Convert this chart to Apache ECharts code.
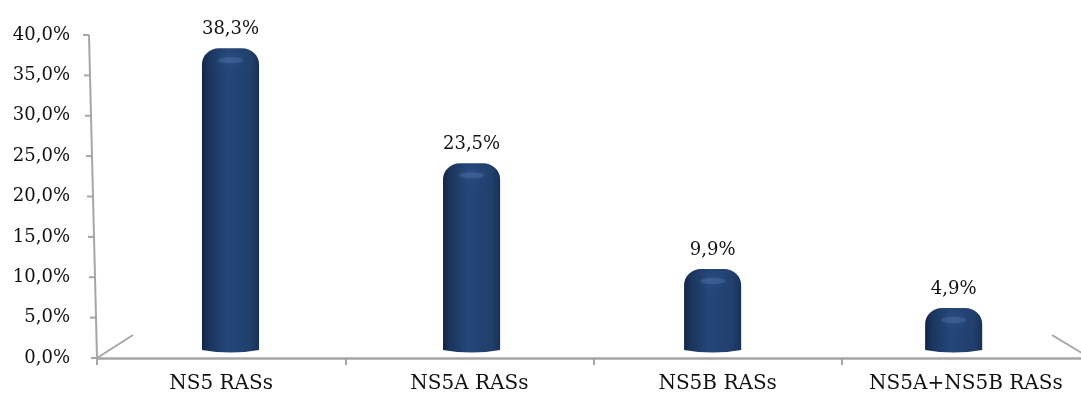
<!DOCTYPE html>
<html>
<head>
<meta charset="utf-8">
<style>
  html, body { margin: 0; padding: 0; background: #ffffff; overflow: hidden; width: 1081px; height: 401px; }
  #chart { width: 1091px; height: 401px; }
</style>
<script src="https://cdn.jsdelivr.net/npm/echarts@6/dist/echarts.min.js"></script>
</head>
<body>
<div id="chart"></div>
<script>
// ---- data ----
var categories = ['NS5 RASs', 'NS5A RASs', 'NS5B RASs', 'NS5A+NS5B RASs'];
var values = [38.3, 23.5, 9.9, 4.9];
var yTicks = [0, 5, 10, 15, 20, 25, 30, 35, 40];

function fmt(v) {
  return v.toFixed(1).replace('.', ',') + '%';
}

var FONT = 'DejaVu Serif';
var AXIS_GRAY = '#a6a6a6';

var chart = echarts.init(document.getElementById('chart'), null, { renderer: 'canvas' });

function barItem(params, api) {
  var i = api.value(0);
  var v = api.value(1);
  var base = api.coord([i, 0]);
  var topPt = api.coord([i, v]);
  var cw = api.size([1, 0])[0];
  var xc = base[0] + (545 - base[0]) * 0.029;
  var w = cw * 0.23;
  var xl = xc - w / 2, xr = xc + w / 2;
  var yb = base[1] - 8;
  var h = (base[1] - topPt[1]) * 0.963 + 4;
  var yt = yb - h;
  var rx = w * 0.3, ry = Math.min(16, h * 0.45);
  var k = 0.5523;
  var d = 'M' + xl + ' ' + yb +
    ' L' + xl + ' ' + (yt + ry) +
    ' C' + xl + ' ' + (yt + ry - k * ry) + ' ' + (xl + rx - k * rx) + ' ' + yt + ' ' + (xl + rx) + ' ' + yt +
    ' L' + (xr - rx) + ' ' + yt +
    ' C' + (xr - rx + k * rx) + ' ' + yt + ' ' + xr + ' ' + (yt + ry - k * ry) + ' ' + xr + ' ' + (yt + ry) +
    ' L' + xr + ' ' + yb +
    ' Q' + xc + ' ' + (yb + 5) + ' ' + xl + ' ' + yb + ' Z';
  return {
    type: 'group',
    children: [
      {
        type: 'path',
        shape: { pathData: d },
        style: {
          fill: new echarts.graphic.LinearGradient(0, 0, 1, 0, [
            { offset: 0, color: '#132644' },
            { offset: 0.12, color: '#1a355d' },
            { offset: 0.45, color: '#24467a' },
            { offset: 0.85, color: '#213f6c' },
            { offset: 1, color: '#183257' }
          ])
        }
      },
      {
        type: 'ellipse',
        shape: { cx: xc, cy: yt + ry * 0.75, rx: w * 0.22, ry: 3 },
        style: {
          fill: 'rgba(90,130,185,0.35)',
          shadowBlur: 8,
          shadowColor: 'rgba(90,130,185,0.6)'
        },
        silent: true
      },
      {
        type: 'text',
        style: {
          text: fmt(v),
          x: xc,
          y: yt - 10,
          align: 'center',
          verticalAlign: 'bottom',
          font: '18px "' + FONT + '"',
          fill: '#111111'
        }
      }
    ]
  };
}

function frameItem(params, api) {
  var cs = params.coordSys;
  var x0 = cs.x, y0 = cs.y + cs.height;
  var yTop = api.coord([0, yTicks[yTicks.length - 1]])[1];
  var lean = 8;
  function axisX(y) { return x0 - lean * (y0 - y) / (y0 - yTop); }
  var children = [
    { type: 'line', shape: { x1: axisX(yTop), y1: yTop, x2: x0, y2: y0 }, style: { stroke: AXIS_GRAY, lineWidth: 2 } },
    { type: 'line', shape: { x1: x0, y1: y0, x2: x0 + 36, y2: y0 - 23 }, style: { stroke: AXIS_GRAY, lineWidth: 2 } },
    { type: 'line', shape: { x1: cs.x + cs.width - 38, y1: y0 - 23, x2: cs.x + cs.width, y2: y0 }, style: { stroke: AXIS_GRAY, lineWidth: 2 } }
  ];
  yTicks.forEach(function (t) {
    var y = api.coord([0, t])[1];
    var ax = axisX(y);
    children.push({ type: 'line', shape: { x1: ax - 6, y1: y, x2: ax, y2: y }, style: { stroke: AXIS_GRAY, lineWidth: 2 } });
  });
  return { type: 'group', children: children };
}

var option = {
  backgroundColor: '#ffffff',
  animation: false,
  grid: { left: 97, top: 35, right: 1, bottom: 43, containLabel: false },
  xAxis: {
    type: 'category',
    data: categories,
    boundaryGap: true,
    axisLine: { show: true, lineStyle: { color: AXIS_GRAY, width: 2.5 } },
    axisTick: { show: true, interval: 0, length: 7, alignWithLabel: false, lineStyle: { color: AXIS_GRAY, width: 2 } },
    axisLabel: { interval: 0, color: '#111111', fontFamily: FONT, fontSize: 20, margin: 16 },
    splitLine: { show: false }
  },
  yAxis: {
    type: 'value',
    min: 0, max: 40, interval: 5,
    axisLine: { show: false },
    axisTick: { show: false },
    splitLine: { show: false },
    axisLabel: { color: '#111111', fontFamily: FONT, fontSize: 18, margin: 27, formatter: function (v) { return fmt(v); } }
  },
  series: [
    {
      type: 'custom',
      name: 'frame',
      renderItem: frameItem,
      data: [[0, 0]],
      silent: true,
      z: 1
    },
    {
      type: 'custom',
      name: 'RASs',
      renderItem: barItem,
      data: values.map(function (v, i) { return [i, v]; }),
      z: 3
    }
  ]
};
chart.setOption(option);
</script>
</body>
</html>
